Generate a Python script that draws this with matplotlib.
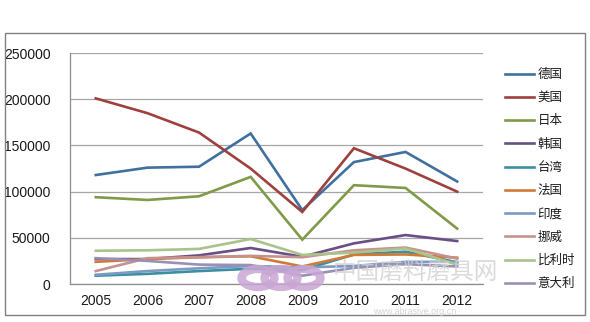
import matplotlib
matplotlib.use("Agg")
import matplotlib.pyplot as plt
from matplotlib.patches import Rectangle, Circle

plt.rcParams['font.family'] = ['Liberation Sans', 'Noto Sans CJK SC', 'DejaVu Sans']

years = ['2005', '2006', '2007', '2008', '2009', '2010', '2011', '2012']

germany = [118000, 126000, 127000, 163000, 80000, 132000, 143000, 111000]
usa = [201000, 185000, 164000, 125000, 78000, 147000, 125000, 100000]
japan = [94000, 91000, 95000, 116000, 48000, 107000, 104000, 60000]
korea = [27000, 27000, 31000, 39000, 29500, 44000, 53000, 46500]
taiwan = [9000, 11000, 14000, 16500, 15000, 32000, 35000, 23500]
france = [24000, 27000, 29000, 30000, 19000, 31500, 32000, 28500]
india = [10000, 14000, 17000, 19500, 18000, 19500, 24000, 24000]
norway = [14000, 28000, 29000, 30500, 29000, 36500, 39500, 27500]
belgium = [36000, 36500, 38000, 48700, 31500, 34000, 38500, 21000]
italy = [28000, 25000, 21000, 20500, 9000, 17500, 21500, 19000]

names = ['德国', '美国', '日本', '韩国', '台湾', '法国', '印度', '挪威', '比利时', '意大利']
series = [germany, usa, japan, korea, taiwan, france, india, norway, belgium, italy]
colors = ['#41709f', '#9e413e', '#7f9a48', '#684f85', '#3b8ea4',
          '#d07a36', '#7b9cc1', '#c69290', '#a9c38a', '#9a8fb5']

fig = plt.figure(figsize=(5.9, 3.22), dpi=100)
ax = fig.add_axes([0.1186, 0.118, 0.70, 0.717])

x = list(range(len(years)))
lines = []
for vals, name, c in zip(series, names, colors):
    ln, = ax.plot(x, vals, color=c, lw=1.9, label=name, solid_joinstyle='miter')
    lines.append(ln)

ax.set_xlim(-0.5, 7.5)
ax.set_ylim(0, 250000)
ax.set_yticks(range(0, 250001, 50000))
ax.set_xticks(x)
ax.set_xticklabels(years)
ax.yaxis.grid(True, color='#a6a6a6', lw=0.9)
ax.set_axisbelow(True)
ax.tick_params(axis='both', length=0, labelsize=10, colors='#1a1a1a')
ax.tick_params(axis='y', pad=14)
ax.tick_params(axis='x', pad=7)
for s in ['top', 'right']:
    ax.spines[s].set_visible(False)
for s in ['left', 'bottom']:
    ax.spines[s].set_color('#8c8c8c')
    ax.spines[s].set_linewidth(0.9)

leg = fig.legend(handles=lines, loc='upper left', bbox_to_anchor=(505 / 590, 1 - 68 / 322),
                 frameon=False, borderpad=0, borderaxespad=0,
                 handlelength=2.35, handletextpad=0.25,
                 labelspacing=0.82, prop={'family': ['Noto Sans CJK SC'], 'size': 9})
for t in leg.get_texts():
    t.set_color('#1a1a1a')

# outer chart border
fig.patches.append(Rectangle((5 / 590, 1 - 315 / 322), 580 / 590, 282 / 322,
                             transform=fig.transFigure, fill=False,
                             edgecolor='#808080', lw=1.0))

# site watermark: logo rings and site name
for cx in (258, 281, 304):
    fig.patches.append(Circle((cx / 590, 1 - 278 / 322), 9 / 322,
                              transform=fig.transFigure, fill=False,
                              edgecolor='#c9a6d4', lw=6, alpha=0.85))
fig.text(415 / 590, 1 - 272 / 322, '中国磨料磨具网', color='#d2d2d2', fontsize=17,
         family=['Noto Sans CJK SC'], ha='center', va='center', alpha=0.8)
fig.text(415 / 590, 1 - 312 / 322, 'www.abrasive.org.cn', color='#cbcbcb', fontsize=6.5,
         ha='center', va='center', alpha=0.8)

fig.savefig('out.png', dpi=100)
